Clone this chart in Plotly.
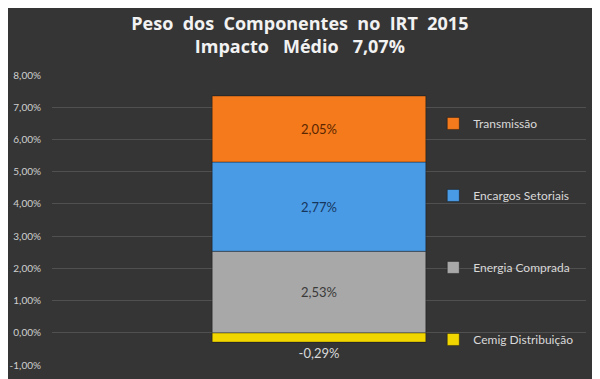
import plotly.graph_objects as go

categories = ["IRT 2015"]
series_names = ["Cemig Distribuição", "Energia Comprada", "Encargos Setoriais", "Transmissão"]
series_values = [[-0.29], [2.53], [2.77], [2.05]]
legend_ranks = [4, 3, 2, 1]
bar_colors = ["#f2d600", "#a8a8a8", "#4a9be6", "#f47a1c"]
label_colors = ["#d9d9d9", "#3a3a3a", "#16365c", "#5a2600"]
tick_values = [-1, 0, 1, 2, 3, 4, 5, 6, 7, 8]
tick_labels = ["-1,00%", "0,00%", "1,00%", "2,00%", "3,00%", "4,00%",
               "5,00%", "6,00%", "7,00%", "8,00%"]

fig = go.Figure()
for name, vals, rank, col, lcol in zip(series_names, series_values, legend_ranks,
                                       bar_colors, label_colors):
    fig.add_trace(go.Bar(
        x=categories, y=vals, name=name,
        legendgroup=name, legendrank=rank,
        marker=dict(color=col, line=dict(color="rgba(0,0,0,0.35)", width=1)),
        width=0.4,
        texttemplate="%{y:.2f}%",
        textposition="outside" if vals[0] < 0 else "inside",
        insidetextanchor="middle",
        textfont=dict(family="Lato", size=13, color=lcol),
        outsidetextfont=dict(family="Lato", size=13, color=lcol),
        cliponaxis=False,
        hoverinfo="skip",
    ))

fig.update_layout(
    width=592, height=371,
    barmode="relative",
    separators=",.",
    paper_bgcolor="#353535",
    plot_bgcolor="rgba(0,0,0,0)",
    margin=dict(l=44, r=14, t=67, b=14),
    title=dict(
        text="Peso  dos  Componentes  no  IRT  2015<br>Impacto   Médio   7,07%",
        x=0.493, xanchor="center", y=0.942, yanchor="middle",
        font=dict(family="Open Sans", size=18, color="#f2f2f2", weight="bold"),
    ),
    xaxis=dict(showticklabels=False, showgrid=False, zeroline=False, showline=False,
               range=[-0.5, 0.5], automargin=False),
    yaxis=dict(range=[-1, 8], tickvals=tick_values, ticktext=tick_labels,
               showgrid=True, gridcolor="#505050", gridwidth=1,
               zeroline=False, showline=False, automargin=False,
               tickfont=dict(family="Lato", size=10, color="#d0d0d0"),
               ticklabelstandoff=10),
    showlegend=True,
    legend=dict(
        x=0.714, xanchor="left", y=0.883, yanchor="top",
        traceorder="grouped",
        tracegroupgap=53,
        bgcolor="rgba(0,0,0,0)",
        font=dict(family="Lato", size=12, color="#d9d9d9"),
        itemwidth=30,
    ),
)
fig.write_html("out.html")
